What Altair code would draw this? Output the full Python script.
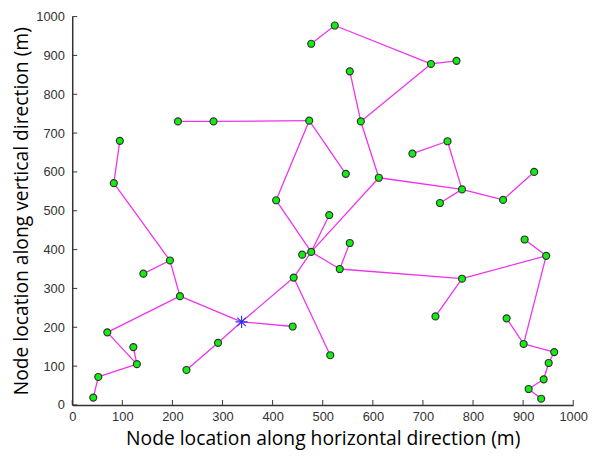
import altair as alt
import pandas as pd

# Node coordinates (m)
node_x = [42, 52, 129, 122, 70, 215, 195, 142, 83, 95,
          338, 440, 291, 228, 442, 515, 477, 459, 513, 407,
          473, 546, 282, 211, 612, 576, 554, 716, 767, 524,
          477, 778, 749, 679, 734, 860, 922, 534, 554, 778,
          725, 946, 903, 901, 867, 962, 951, 941, 911, 936]
node_y = [19, 72, 105, 149, 187, 280, 372, 338, 571, 680,
          214, 202, 160, 90, 328, 128, 394, 387, 489, 527,
          732, 595, 730, 730, 585, 730, 859, 878, 886, 977,
          930, 555, 679, 647, 520, 528, 600, 350, 417, 325,
          228, 384, 426, 157, 223, 136, 108, 66, 41, 16]
sink_index = 10

# Tree links (parent, child)
edge_from = [0, 1, 2, 2, 4, 5, 6, 6, 8, 5, 10, 10, 12, 10, 14, 14, 16, 16, 16, 19,
             20, 20, 22, 16, 24, 25, 25, 27, 27, 29, 24, 31, 32, 31, 31, 35, 16, 37,
             37, 39, 39, 41, 41, 43, 43, 45, 46, 47, 48]
edge_to = [1, 2, 3, 4, 5, 6, 7, 8, 9, 10, 11, 12, 13, 14, 15, 16, 17, 18, 19, 20,
           21, 22, 23, 24, 25, 26, 27, 28, 29, 30, 31, 32, 33, 34, 35, 36, 37, 38,
           39, 40, 41, 42, 43, 44, 45, 46, 47, 48, 49]

tick_values = [0, 100, 200, 300, 400, 500, 600, 700, 800, 900, 1000]

rows = []
for k, (a, b) in enumerate(zip(edge_from, edge_to)):
    rows.append({"edge": k, "order": 0, "x": node_x[a], "y": node_y[a]})
    rows.append({"edge": k, "order": 1, "x": node_x[b], "y": node_y[b]})
edges_df = pd.DataFrame(rows)

nodes_df = pd.DataFrame({"x": [v for i, v in enumerate(node_x) if i != sink_index],
                         "y": [v for i, v in enumerate(node_y) if i != sink_index]})
sink_df = pd.DataFrame({"x": [node_x[sink_index]], "y": [node_y[sink_index]]})
ticks_df = pd.DataFrame({"x": tick_values, "y": tick_values})

W, H = 507, 393
xs = alt.Scale(domain=[0, 1000], nice=False, zero=False)
ys = alt.Scale(domain=[0, 1000], nice=False, zero=False)

label_font = "Liberation Sans"
title_font = "Open Sans"

x_axis = alt.Axis(values=tick_values, format="d", labelOverlap=False, labelFlush=False,
                  title="Node location along horizontal direction (m)",
                  grid=False, ticks=False, domainColor="#333333", domainWidth=1.5,
                  labelFont=label_font, labelFontSize=13, labelColor="#333333",
                  labelPadding=6, titleFont=title_font, titleFontSize=19.5,
                  titleFontWeight="normal", titleColor="#000000", titlePadding=6)
y_axis = alt.Axis(values=tick_values, format="d", labelOverlap=False, labelFlush=False,
                  title="Node location along vertical direction (m)",
                  grid=False, ticks=False, domainColor="#333333", domainWidth=1.5,
                  labelFont=label_font, labelFontSize=13, labelColor="#333333",
                  labelPadding=8, titleFont=title_font, titleFontSize=19.5,
                  titleFontWeight="normal", titleColor="#000000", titlePadding=4)

X = alt.X("x:Q", scale=xs, axis=x_axis)
Y = alt.Y("y:Q", scale=ys, axis=y_axis)

lines = alt.Chart(edges_df).mark_line(color="#ee33ee", strokeWidth=1.3).encode(
    x=X, y=Y, detail="edge:N", order="order:Q",
)

xticks = alt.Chart(ticks_df).mark_rule(color="#333333", strokeWidth=1).encode(
    x=X, y=alt.value(H), y2=alt.value(H - 5),
)
yticks = alt.Chart(ticks_df).mark_rule(color="#333333", strokeWidth=1).encode(
    y=Y, x=alt.value(0), x2=alt.value(5),
)

points = alt.Chart(nodes_df).mark_point(filled=True, shape="circle", size=50,
                                         fill="#11ee11", stroke="#333333",
                                         strokeWidth=1.2, opacity=1).encode(x=X, y=Y)

asterisk = "M-1,0L1,0M0,-1L0,1M-0.7,-0.7L0.7,0.7M-0.7,0.7L0.7,-0.7"
sink = alt.Chart(sink_df).mark_point(shape=asterisk, size=150, filled=False,
                                      stroke="#3333ee", strokeWidth=1.2, opacity=1).encode(x=X, y=Y)

chart = alt.layer(lines, xticks, yticks, points, sink).properties(
    width=W, height=H,
    autosize=alt.AutoSizeParams(type="none"),
    padding={"left": 65, "top": 6, "right": 20, "bottom": 50},
    background="white",
).configure_view(stroke=None)

chart.save("out.html", embed_options={"renderer": "svg", "actions": False})
